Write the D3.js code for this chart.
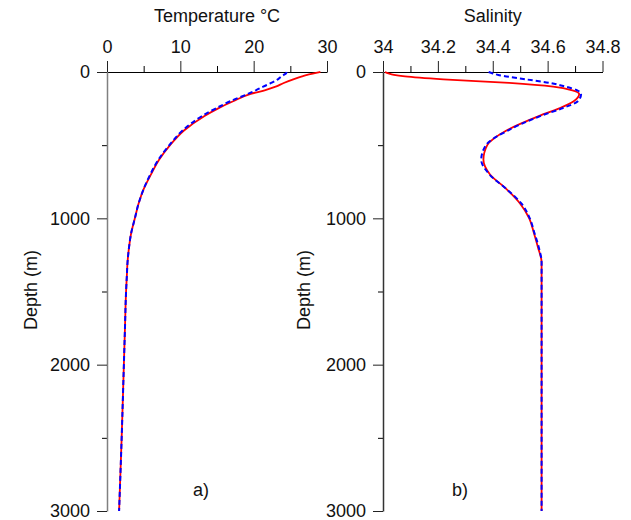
<!DOCTYPE html>
<html>
<head>
<meta charset="utf-8">
<script src="https://cdn.jsdelivr.net/npm/d3@7/dist/d3.min.js"></script>
<style>
  body { margin: 0; background: #fff; }
  text { font-family: "Liberation Sans", Arial, sans-serif; }
</style>
</head>
<body>
<svg></svg>
<script>
const width = 631;
const height = 520;

// depths (m) for both profiles
const depths = [0, 10, 20, 30, 50, 75, 100, 125, 150, 200, 250, 300, 400, 500, 600, 700, 800, 900, 1000, 1100, 1200, 1300, 1400, 1500, 1750, 2000, 2500, 3000];

// temperature, red solid / blue dashed
const tempRed  = [29.1, 28.2, 27.3, 26.6, 25.4, 24.1, 23.0, 21.5, 19.6, 17.2, 15.1, 13.3, 10.5, 8.6, 7.1, 6.0, 5.0, 4.3, 3.8, 3.3, 3.0, 2.8, 2.7, 2.6, 2.45, 2.3, 2.0, 1.65];
const tempBlue = [24.5, 24.4, 24.1, 23.8, 23.3, 22.4, 21.3, 20.3, 19.2, 16.8, 14.8, 13.0, 10.3, 8.5, 7.0, 5.9, 5.0, 4.3, 3.8, 3.3, 3.0, 2.8, 2.7, 2.6, 2.45, 2.3, 2.0, 1.65];

// salinity, red solid / blue dashed
const salRed  = [34.007, 34.02, 34.04, 34.08, 34.22, 34.46, 34.62, 34.69, 34.715, 34.695, 34.64, 34.57, 34.45, 34.38, 34.366, 34.39, 34.45, 34.50, 34.533, 34.55, 34.565, 34.578, 34.578, 34.578, 34.578, 34.578, 34.578, 34.578];
const salBlue = [34.385, 34.40, 34.42, 34.45, 34.52, 34.61, 34.665, 34.708, 34.722, 34.71, 34.65, 34.575, 34.455, 34.375, 34.358, 34.388, 34.45, 34.505, 34.535, 34.552, 34.568, 34.578, 34.578, 34.578, 34.578, 34.578, 34.578, 34.578];

const depthTicks = [0, 1000, 2000, 3000];
const depthMinor = [500, 1500, 2500];
const tempTicks = [0, 10, 20, 30];
const tempMinor = [5, 15, 25];
const salTicks = [34, 34.2, 34.4, 34.6, 34.8];
const salMinor = [34.1, 34.3, 34.5, 34.7];

let svg = d3.select("svg")
  .attr("width", width)
  .attr("height", height);

let yScale = d3.scaleLinear().domain([0, 3000]).range([72, 511]);

function drawPanel(p) {
  let x = p.xScale;
  let g = svg.append("g");

  // minor ticks first
  g.append("g")
    .attr("transform", `translate(0,${yScale(0)})`)
    .call(d3.axisTop(x).tickValues(p.minor).tickSize(6).tickSizeOuter(0).tickFormat(""))
    .call(a => a.select(".domain").remove());
  g.append("g")
    .attr("transform", `translate(${x.range()[0]},0)`)
    .call(d3.axisLeft(yScale).tickValues(depthMinor).tickSize(5).tickSizeOuter(0).tickFormat(""))
    .call(a => a.select(".domain").remove());

  let xAxis = g.append("g")
    .attr("transform", `translate(0,${yScale(0)})`)
    .call(d3.axisTop(x).tickValues(p.ticks).tickSize(11).tickSizeOuter(0).tickPadding(8).tickFormat(p.fmt));

  let yAxis = g.append("g")
    .attr("transform", `translate(${x.range()[0]},0)`)
    .call(d3.axisLeft(yScale).tickValues(depthTicks).tickSize(10).tickSizeOuter(0).tickPadding(7).tickFormat(d3.format("d")));

  [xAxis, yAxis].forEach(a => {
    a.selectAll("text").attr("font-size", 18).attr("fill", "#111")
      .style("font-family", '"Liberation Sans", Arial, sans-serif');
    a.selectAll("line").attr("stroke", "#222");
  });
  xAxis.select(".domain").attr("stroke", "#000");
  yAxis.select(".domain").attr("stroke", p.yAxisColor).attr("stroke-width", 1.5);

  // titles
  g.append("text")
    .attr("x", (x.range()[0] + x.range()[1]) / 2)
    .attr("y", 22)
    .attr("text-anchor", "middle")
    .attr("font-size", 18)
    .attr("fill", "#111")
    .text(p.title);

  g.append("text")
    .attr("transform", `translate(${p.ylabelX},290) rotate(-90)`)
    .attr("text-anchor", "middle")
    .attr("font-size", 18)
    .attr("fill", "#111")
    .text("Depth (m)");

  g.append("text")
    .attr("x", p.tagX)
    .attr("y", 496)
    .attr("font-size", 18)
    .attr("fill", "#111")
    .text(p.tag);

  let line = (vals) => d3.line()
    .x((d, i) => x(vals[i]))
    .y(d => yScale(d))
    .curve(d3.curveMonotoneY)(depths);

  g.append("path")
    .attr("d", line(p.red))
    .attr("fill", "none")
    .attr("stroke", "#ff0000")
    .attr("stroke-width", 1.8);

  g.append("path")
    .attr("d", line(p.blue))
    .attr("fill", "none")
    .attr("stroke", "#0000ff")
    .attr("stroke-width", 2)
    .attr("stroke-dasharray", "5,3");
}

drawPanel({
  xScale: d3.scaleLinear().domain([0, 30]).range([107, 327]),
  ticks: tempTicks,
  minor: tempMinor,
  fmt: d3.format("d"),
  title: "Temperature \u00b0C",
  red: tempRed,
  blue: tempBlue,
  yAxisColor: "#808080",
  ylabelX: 37,
  tag: "a)",
  tagX: 193
});

drawPanel({
  xScale: d3.scaleLinear().domain([34, 34.8]).range([383, 602.5]),
  ticks: salTicks,
  minor: salMinor,
  fmt: d => d === 34 ? "34" : d3.format(".1f")(d),
  title: "Salinity",
  red: salRed,
  blue: salBlue,
  yAxisColor: "#333",
  ylabelX: 310,
  tag: "b)",
  tagX: 452
});
</script>
</body>
</html>
